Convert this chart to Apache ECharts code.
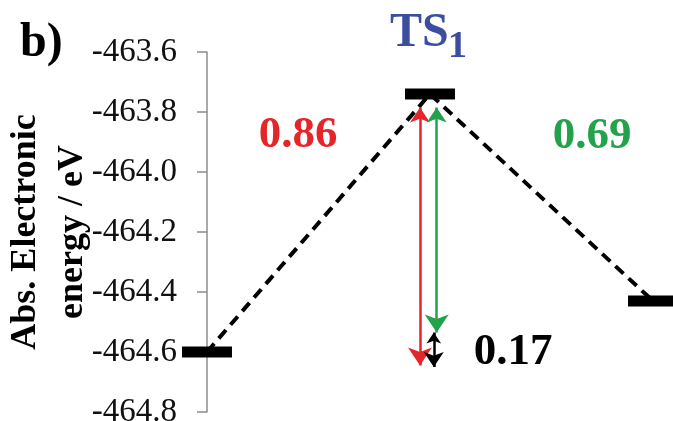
<!DOCTYPE html>
<html>
<head>
<meta charset="utf-8">
<script src="https://cdn.jsdelivr.net/npm/echarts@6/dist/echarts.min.js"></script>
<style>
  html, body { margin: 0; background: #fff; }
  #chart { width: 673px; height: 421px; }
</style>
</head>
<body>
<div id="chart"></div>
<script>
// energy levels, eV
const stateNames = ['R', 'TS1', 'P']
const stateX = [0, 1, 2]
const stateEnergy = [-464.6, -463.74, -464.43]

// arrows (x position, upper end, lower end)
const arrowX = [0.955, 1.03, 1.017]
const arrowTop = [-463.785, -463.785, -464.535]
const arrowBottom = [-464.645, -464.535, -464.65]
const arrowColors = ['#e4262b', '#23a24b', '#000000']

const barrierLabels = ['0.86', '0.69', '0.17']

const serif = 'Liberation Serif'
const chart = echarts.init(document.getElementById('chart'))

const levelSeries = {
  type: 'custom',
  z: 5,
  data: stateX.map((x, i) => [x, stateEnergy[i]]),
  renderItem: function(params, api) {
    const halfW = 0.112
    const p1 = api.coord([api.value(0) - halfW, api.value(1)])
    const p2 = api.coord([api.value(0) + halfW, api.value(1)])
    return {
      type: 'rect',
      shape: { x: p1[0], y: p1[1] - 5.5, width: p2[0] - p1[0], height: 11 },
      style: { fill: '#000' }
    }
  }
}

const pathSeries = {
  type: 'line',
  z: 2,
  symbol: 'none',
  data: stateX.map((x, i) => [x, stateEnergy[i]]),
  lineStyle: { color: '#000', width: 4, type: [11, 7] }
}

const arrowSeries = arrowX.map((x, i) => ({
  type: 'lines',
  coordinateSystem: 'cartesian2d',
  z: 4,
  symbol: ['arrow', 'arrow'],
  symbolSize: i === 2 ? [11, 15] : [15, 18],
  lineStyle: { color: arrowColors[i], width: 2.5, opacity: 1 },
  data: [{ coords: [[x, arrowTop[i]], [x, arrowBottom[i]]] }]
}))

chart.setOption({
  animation: false,
  grid: {
    left: 207,
    right: 20,
    top: 52,
    bottom: 9,
    containLabel: false,
    outerBoundsMode: 'none'
  },
  xAxis: {
    type: 'value',
    min: 0,
    max: 2,
    show: false
  },
  yAxis: {
    type: 'value',
    min: -464.8,
    max: -463.6,
    interval: 0.2,
    name: 'Abs. Electronic\nenergy / eV',
    nameLocation: 'middle',
    nameRotate: 90,
    nameGap: 111,
    nameMoveOverlap: false,
    nameTextStyle: {
      fontFamily: serif,
      fontWeight: 'bold',
      fontSize: 36,
      lineHeight: 47,
      color: '#000'
    },
    axisLine: { show: true, lineStyle: { color: '#8c8c8c', width: 1.5 } },
    axisTick: { show: true, inside: false, length: 10, lineStyle: { color: '#8c8c8c', width: 1.5 } },
    splitLine: { show: false },
    axisLabel: {
      margin: 30,
      fontFamily: serif,
      fontSize: 33,
      color: '#111',
      formatter: v => v.toFixed(1)
    }
  },
  graphic: [
    { type: 'text', x: 20, y: 20, style: { text: 'b)', font: 'bold 48px ' + serif, fill: '#000', verticalAlign: 'top' } },
    { type: 'text', x: 390, y: 34, style: { text: 'TS', font: 'bold 48px ' + serif, fill: '#3c4f9f', verticalAlign: 'middle' } },
    { type: 'text', x: 448, y: 47, style: { text: '1', font: 'bold 38px ' + serif, fill: '#3c4f9f', verticalAlign: 'middle' } },
    { type: 'text', x: 298, y: 135, style: { text: barrierLabels[0], font: 'bold 45px ' + serif, fill: arrowColors[0], align: 'center', verticalAlign: 'middle' } },
    { type: 'text', x: 592, y: 136, style: { text: barrierLabels[1], font: 'bold 45px ' + serif, fill: arrowColors[1], align: 'center', verticalAlign: 'middle' } },
    { type: 'text', x: 513, y: 352, style: { text: barrierLabels[2], font: 'bold 45px ' + serif, fill: '#000', align: 'center', verticalAlign: 'middle' } }
  ],
  series: [pathSeries, levelSeries].concat(arrowSeries)
})
</script>
</body>
</html>
